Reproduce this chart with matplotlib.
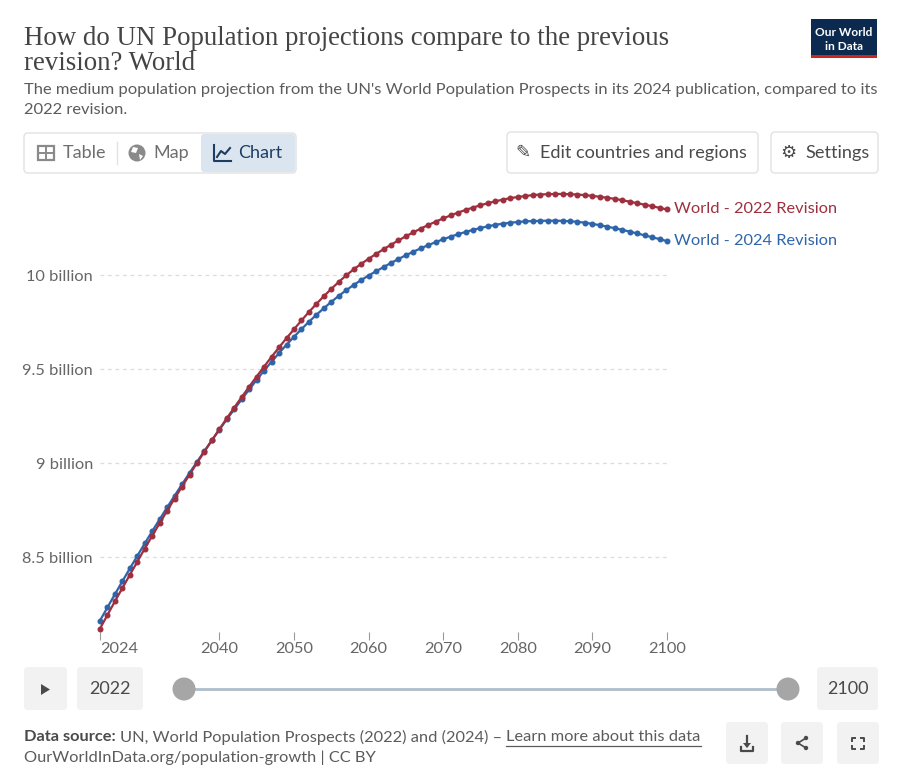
import matplotlib
matplotlib.use('Agg')
import matplotlib.pyplot as plt
from matplotlib.patches import FancyBboxPatch, Rectangle, Circle, Polygon
from matplotlib.lines import Line2D

# ---------------- data ----------------
years = list(range(2024, 2101))
rev2022 = [8.119, 8.192, 8.264, 8.335, 8.405, 8.475, 8.545, 8.613, 8.680, 8.746,
           8.811, 8.875, 8.938, 9.000, 9.061, 9.121, 9.180, 9.238, 9.295, 9.351,
           9.406, 9.460, 9.513, 9.565, 9.615, 9.664, 9.711, 9.758, 9.803, 9.846,
           9.887, 9.926, 9.963, 9.998, 10.030, 10.059, 10.086, 10.112, 10.137, 10.161,
           10.184, 10.206, 10.227, 10.247, 10.266, 10.284, 10.301, 10.317, 10.332, 10.346,
           10.359, 10.371, 10.382, 10.392, 10.401, 10.409, 10.415, 10.420, 10.425, 10.428,
           10.430, 10.431, 10.431, 10.430, 10.428, 10.425, 10.421, 10.416, 10.411, 10.405,
           10.398, 10.390, 10.382, 10.374, 10.366, 10.357, 10.349]
rev2024 = [8.162, 8.232, 8.302, 8.371, 8.439, 8.506, 8.572, 8.637, 8.701, 8.764,
           8.826, 8.887, 8.947, 9.006, 9.064, 9.121, 9.177, 9.232, 9.286, 9.339,
           9.391, 9.442, 9.492, 9.539, 9.585, 9.629, 9.671, 9.712, 9.751, 9.788,
           9.823, 9.857, 9.889, 9.919, 9.947, 9.973, 9.997, 10.020, 10.042, 10.064,
           10.085, 10.105, 10.124, 10.142, 10.159, 10.175, 10.190, 10.204, 10.217, 10.229,
           10.240, 10.250, 10.259, 10.267, 10.273, 10.278, 10.282, 10.285, 10.287, 10.288,
           10.289, 10.289, 10.288, 10.286, 10.283, 10.278, 10.272, 10.265, 10.257, 10.249,
           10.240, 10.231, 10.221, 10.211, 10.201, 10.191, 10.180]
series_names = ['World - 2022 Revision', 'World - 2024 Revision']
y_ticks = [8.5, 9.0, 9.5, 10.0]
y_tick_labels = ['8.5 billion', '9 billion', '9.5 billion', '10 billion']
x_ticks = [2024, 2040, 2050, 2060, 2070, 2080, 2090, 2100]
time_start, time_end = '2022', '2100'

assert len(years) == len(rev2022) == len(rev2024)

RED = '#9e2f3e'
BLUE = '#2e65aa'
GREY = '#5b5b5b'
LIGHT = '#666666'
UI = ['Lato', 'DejaVu Sans']

W, H = 900, 783
fig = plt.figure(figsize=(W / 100, H / 100), dpi=100)
fig.patch.set_facecolor('white')

# overlay axes in pixel coordinates for the page chrome
ui = fig.add_axes([0, 0, 1, 1])
ui.set_xlim(0, W)
ui.set_ylim(H, 0)
ui.axis('off')


def rbox(x0, y0, x1, y1, fc='white', ec='none', r=4, lw=1.0, z=1):
    p = FancyBboxPatch((x0, y0), x1 - x0, y1 - y0,
                       boxstyle=f'round,pad=0,rounding_size={r}',
                       fc=fc, ec=ec, lw=lw, zorder=z)
    ui.add_patch(p)
    return p


# ---------------- header ----------------
SERIF = ['Liberation Serif', 'DejaVu Serif']
ui.text(24, 45, 'How do UN Population projections compare to the previous',
        fontsize=19.4, family=SERIF, color='#444444', va='baseline', ha='left')
ui.text(24, 70, 'revision? World',
        fontsize=19.4, family=SERIF, color='#444444', va='baseline', ha='left')
ui.text(24, 94, "The medium population projection from the UN's World Population Prospects in its 2024 publication, compared to its",
        fontsize=11.85, family=UI, color=GREY, va='baseline', ha='left')
ui.text(24, 114, '2022 revision.', fontsize=11.85, family=UI, color=GREY,
        va='baseline', ha='left')

# logo
ui.add_patch(Rectangle((811, 19), 66, 36, fc='#0c2a50', ec='none', zorder=2))
ui.add_patch(Rectangle((811, 55), 66, 3, fc='#ce261e', ec='none', zorder=2))
ui.text(844, 32, 'Our World', fontsize=8.6, family=UI, color='white',
        ha='center', va='center', zorder=3, weight='bold')
ui.text(844, 46, 'in Data', fontsize=8.6, family=UI, color='white',
        ha='center', va='center', zorder=3, weight='bold')

# tab bar
rbox(24, 133, 296, 173, fc='white', ec='#e2e2e2', r=4, lw=1)
rbox(201, 134, 295, 172, fc='#dbe5f0', ec='none', r=3, z=2)
ui.add_line(Line2D([117, 117], [142, 164], color='#e2e2e2', lw=1, zorder=2))
# table icon
ui.add_patch(Rectangle((38, 146), 16, 14, fc='none', ec='#8a8a8a', lw=1.6, zorder=3))
ui.add_line(Line2D([38, 54], [153, 153], color='#8a8a8a', lw=1.4, zorder=3))
ui.add_line(Line2D([46, 46], [146, 160], color='#8a8a8a', lw=1.4, zorder=3))
# globe icon
ui.add_patch(Circle((137, 153), 8.5, fc='#8a8a8a', ec='none', zorder=3))
ui.add_patch(Polygon([[133, 147], [138, 148], [136, 153], [131, 152]], fc='white', ec='none', zorder=4))
ui.add_patch(Polygon([[139, 154], [143, 156], [140, 160]], fc='white', ec='none', zorder=4))
# chart icon
ui.add_line(Line2D([214, 214, 231], [145, 161, 161], color='#1d3d63', lw=1.5, zorder=3))
ui.add_line(Line2D([217, 221, 225, 230], [157, 151, 154, 148], color='#1d3d63', lw=1.5, zorder=3))
ui.text(63, 153, 'Table', fontsize=13, family=UI, color='#6e6e6e', va='center', ha='left', zorder=3)
ui.text(153, 153, 'Map', fontsize=13, family=UI, color='#6e6e6e', va='center', ha='left', zorder=3)
ui.text(238, 153, 'Chart', fontsize=13, family=UI, color='#1d3d63', va='center', ha='left', zorder=3)

# buttons
rbox(507, 132, 758, 173, fc='white', ec='#e2e2e2', r=4)
ui.text(515, 153, '\u270E', fontsize=13, family=['DejaVu Sans'], color='#4a4a4a',
        va='center', ha='left', zorder=3)
ui.text(540, 153, 'Edit countries and regions', fontsize=13.1, family=UI,
        color='#4a4a4a', va='center', ha='left', zorder=3)
rbox(771, 132, 878, 173, fc='white', ec='#e2e2e2', r=4)
ui.text(780, 153, '\u2699', fontsize=13, family=['DejaVu Sans'], color='#4a4a4a',
        va='center', ha='left', zorder=3)
ui.text(805, 153, 'Settings', fontsize=13.1, family=UI, color='#4a4a4a',
        va='center', ha='left', zorder=3)

# ---------------- timeline ----------------
rbox(24, 667, 67, 710, fc='#f2f2f2', r=4)
ui.add_patch(Polygon([[41, 684], [41, 695], [50, 689.5]], fc='#4a4a4a', ec='none', zorder=3))
rbox(77, 667, 143, 710, fc='#f2f2f2', r=4)
ui.text(110, 689, time_start, fontsize=13, family=UI, color='#4a4a4a',
        ha='center', va='center', zorder=3)
ui.add_line(Line2D([184, 788], [689, 689], color='#aebdca', lw=2, zorder=2))
ui.add_patch(Circle((184, 689), 11.5, fc='#a6a6a6', ec='none', zorder=3))
ui.add_patch(Circle((788, 689), 11.5, fc='#a6a6a6', ec='none', zorder=3))
rbox(817, 667, 878, 710, fc='#f2f2f2', r=4)
ui.text(847.5, 689, time_end, fontsize=13, family=UI, color='#4a4a4a',
        ha='center', va='center', zorder=3)

# ---------------- footer ----------------
FS = 11.8
t1 = ui.text(24, 737, 'Data source:', fontsize=FS, family=UI, color='#4a4a4a',
             weight='bold', va='center', ha='left')
ui.text(24, 758, 'OurWorldInData.org/population-growth | CC BY', fontsize=FS,
        family=UI, color=GREY, va='center', ha='left')
for bx in (726, 781, 837):
    rbox(bx, 722, bx + 42, 764, fc='#f2f2f2', r=4)
# download icon
ui.add_line(Line2D([747, 747], [736, 746], color='#4a4a4a', lw=1.6, zorder=3))
ui.add_patch(Polygon([[743, 743], [751, 743], [747, 748]], fc='#4a4a4a', ec='none', zorder=3))
ui.add_line(Line2D([741, 741, 753, 753], [747, 751, 751, 747], color='#4a4a4a', lw=1.6, zorder=3))
# share icon
for (cx, cy) in [(806, 738), (798, 743), (806, 748)]:
    ui.add_patch(Circle((cx, cy), 2.2, fc='#4a4a4a', ec='none', zorder=3))
ui.add_line(Line2D([806, 798, 806], [738, 743, 748], color='#4a4a4a', lw=1.2, zorder=3))
# fullscreen icon
for (x0, y0, dx, dy) in [(852, 738, 1, 1), (864, 738, -1, 1), (852, 749, 1, -1), (864, 749, -1, -1)]:
    ui.add_line(Line2D([x0 + 3 * dx, x0, x0], [y0, y0, y0 + 3 * dy], color='#4a4a4a', lw=1.4, zorder=3))

# ---------------- chart ----------------
px_left, px_right = 100, 667
px_top, px_bottom = 190, 632
v_top = 10 + (275 - px_top) / 188
v_bottom = 10 - (px_bottom - 275) / 188
ax = fig.add_axes([px_left / W, 1 - px_bottom / H, (px_right - px_left) / W,
                   (px_bottom - px_top) / H])
ax.set_facecolor('none')
ax.set_xlim(2024, 2100)
ax.set_ylim(v_bottom, v_top)
for s in ax.spines.values():
    s.set_visible(False)

for v in y_ticks:
    ax.axhline(v, color='#dcdcdc', lw=0.9, ls=(0, (3, 3)), zorder=1)

LS = 11.8
ax.set_yticks(y_ticks)
ax.set_yticklabels(y_tick_labels)
ax.tick_params(axis='y', length=0, pad=5, labelsize=LS, labelcolor=LIGHT)
ax.set_xticks(x_ticks)
ax.set_xticklabels([str(x) for x in x_ticks])
ax.tick_params(axis='x', length=6, width=0.8, color='#9a9a9a', pad=1.5,
               labelsize=LS, labelcolor=LIGHT)
for lab in ax.get_yticklabels() + ax.get_xticklabels():
    lab.set_family(UI)
ax.get_xticklabels()[0].set_horizontalalignment('left')

for vals, col, name in [(rev2024, BLUE, series_names[1]), (rev2022, RED, series_names[0])]:
    ax.plot(years, vals, color=col, lw=1.6, marker='o', ms=3.3, mec=col, mfc=col,
            zorder=3, clip_on=False)
    ax.annotate(name, xy=(years[-1], vals[-1]), xytext=(5, 0), textcoords='offset points',
                ha='left', va='center', fontsize=LS, family=UI, color=col,
                annotation_clip=False)

# footer inline pieces measured after layout
fig.canvas.draw()
r = fig.canvas.get_renderer()
bb = t1.get_window_extent(r)
x_next = bb.x1 + 4
t2 = ui.text(x_next, 737, 'UN, World Population Prospects (2022) and (2024) \u2013 ',
             fontsize=FS, family=UI, color=GREY, va='center', ha='left')
fig.canvas.draw()
bb2 = t2.get_window_extent(r)
t3 = ui.text(bb2.x1, 737, 'Learn more about this data', fontsize=FS, family=UI,
             color=GREY, va='center', ha='left')
fig.canvas.draw()
bb3 = t3.get_window_extent(r)
ui.add_line(Line2D([bb3.x0, bb3.x1], [745.5, 745.5], color=GREY, lw=0.9))

fig.savefig('out.png', dpi=100, facecolor='white')
